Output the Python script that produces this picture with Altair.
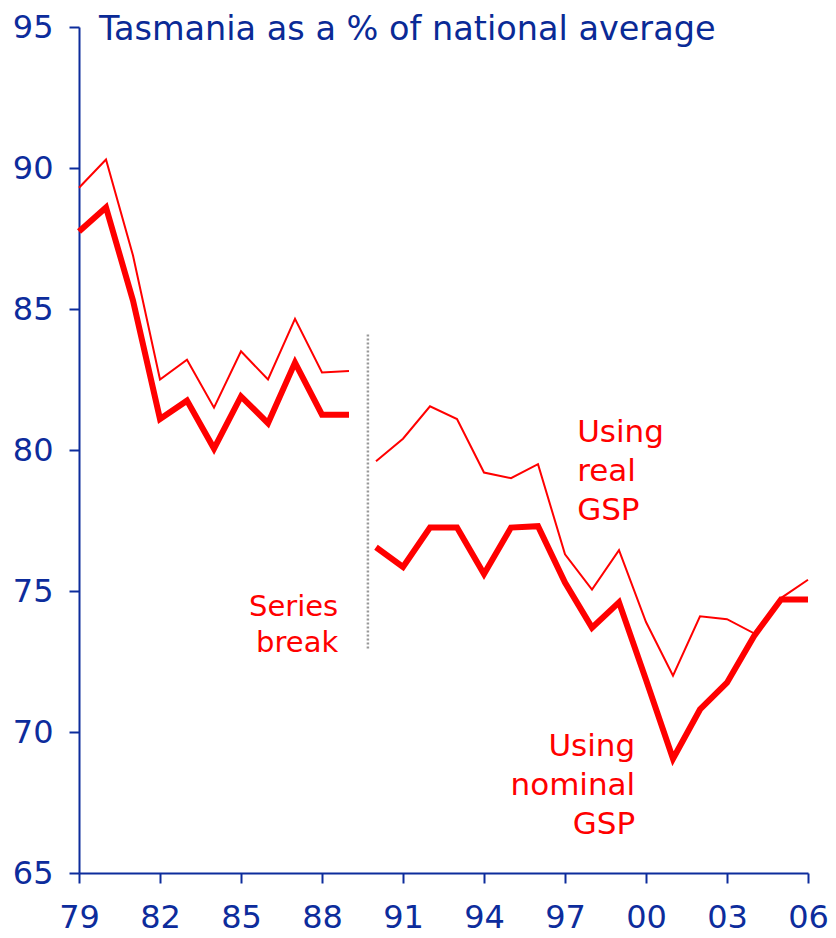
import altair as alt
import pandas as pd

years = [1979, 1980, 1981, 1982, 1983, 1984, 1985, 1986, 1987, 1988, 1989,
         1990, 1991, 1992, 1993, 1994, 1995, 1996, 1997, 1998, 1999,
         2000, 2001, 2002, 2003, 2004, 2005, 2006]
real_gsp = [89.3, 90.3, 86.9, 82.5, 83.2, 81.5, 83.5, 82.5, 84.65, 82.75, 82.8,
            79.6, 80.4, 81.55, 81.1, 79.2, 79.0, 79.5, 76.3, 75.05, 76.45,
            73.9, 72.0, 74.1, 74.0, 73.5, 74.75, 75.4]
nominal_gsp = [87.75, 88.6, 85.3, 81.1, 81.75, 80.05, 81.9, 80.95, 83.1, 81.25, 81.25,
               76.55, 75.85, 77.25, 77.25, 75.6, 77.25, 77.3, 75.3, 73.7, 74.6,
               71.85, 69.05, 70.8, 71.75, 73.4, 74.7, 74.7]
x_ticks = [1979, 1982, 1985, 1988, 1991, 1994, 1997, 2000, 2003, 2006]
y_ticks = [65, 70, 75, 80, 85, 90, 95]

break_year = 1989.7
break_top, break_bottom = 84.1, 72.9

title_text = "Tasmania as a % of national average"
notes = [
    {"x": 1997.45, "y": 80.27, "text": ["Using", "real", "GSP"], "align": "left"},
    {"x": 1999.6, "y": 69.16, "text": ["Using", "nominal", "GSP"], "align": "right"},
]
series_break_note = {"x": 1988.6, "y": 74.13, "text": ["Series", "break"]}

BLUE = "#0D2C9C"
RED = "#FF0000"
FONT = "DejaVu Sans"

rows = []
for i, yr in enumerate(years):
    seg = "a" if yr <= 1989 else "b"
    rows.append({"year": yr, "value": real_gsp[i], "series": "real", "seg": seg})
    rows.append({"year": yr, "value": nominal_gsp[i], "series": "nominal", "seg": seg})
df = pd.DataFrame(rows)

xs = alt.Scale(domain=[1979, 2006], nice=False, zero=False)
ys = alt.Scale(domain=[65, 95], nice=False, zero=False)

x_axis = alt.Axis(values=x_ticks, labelExpr="substring(toString(datum.value), 2)",
                  tickSize=10, labelPadding=19, labelFlush=False, title=None)
y_axis = alt.Axis(values=y_ticks, tickSize=10, labelPadding=16, labelFlush=False, title=None)

base = alt.Chart(df)

thin = base.transform_filter(alt.datum.series == "real").mark_line(
    color=RED, strokeWidth=2
).encode(
    x=alt.X("year:Q", scale=xs, axis=x_axis),
    y=alt.Y("value:Q", scale=ys, axis=y_axis),
    detail="seg:N",
)

thick = base.transform_filter(alt.datum.series == "nominal").mark_line(
    color=RED, strokeWidth=6, strokeJoin="miter"
).encode(
    x=alt.X("year:Q", scale=xs),
    y=alt.Y("value:Q", scale=ys),
    detail="seg:N",
)

rule_df = pd.DataFrame([{"x": break_year, "y": break_top, "y2": break_bottom}])
rule = alt.Chart(rule_df).mark_rule(color="#999999", strokeWidth=2.5, strokeDash=[2, 2]).encode(
    x=alt.X("x:Q", scale=xs), y=alt.Y("y:Q", scale=ys), y2="y2:Q"
)

title_df = pd.DataFrame([{"x": 1979.74, "y": 94.53, "t": title_text}])
title = alt.Chart(title_df).mark_text(
    align="left", baseline="alphabetic", font=FONT, fontSize=33.5, color="#0A2A96"
).encode(x=alt.X("x:Q", scale=xs), y=alt.Y("y:Q", scale=ys), text="t:N")

note_layers = []
for n in notes:
    ndf = pd.DataFrame([{"x": n["x"], "y": n["y"]}])
    note_layers.append(
        alt.Chart(ndf).mark_text(
            align=n["align"], baseline="alphabetic", font=FONT, fontSize=31,
            color=RED, lineHeight=39, text=n["text"]
        ).encode(x=alt.X("x:Q", scale=xs), y=alt.Y("y:Q", scale=ys))
    )
sdf = pd.DataFrame([{"x": series_break_note["x"], "y": series_break_note["y"]}])
note_layers.append(
    alt.Chart(sdf).mark_text(
        align="right", baseline="alphabetic", font=FONT, fontSize=29,
        color=RED, lineHeight=36, text=series_break_note["text"]
    ).encode(x=alt.X("x:Q", scale=xs), y=alt.Y("y:Q", scale=ys))
)

chart = alt.layer(thin, thick, rule, title, *note_layers).properties(
    width=729, height=846,
    autosize=alt.AutoSizeParams(type="none"),
    padding={"left": 71, "top": 19, "right": 20, "bottom": 64},
).configure_view(stroke=None).configure_axis(
    grid=False, domainColor=BLUE, domainWidth=2, tickColor=BLUE, tickWidth=2,
    labelColor=BLUE, labelFont=FONT, labelFontSize=32,
)

chart.save("out.html", embed_options={"renderer": "svg", "actions": False})
